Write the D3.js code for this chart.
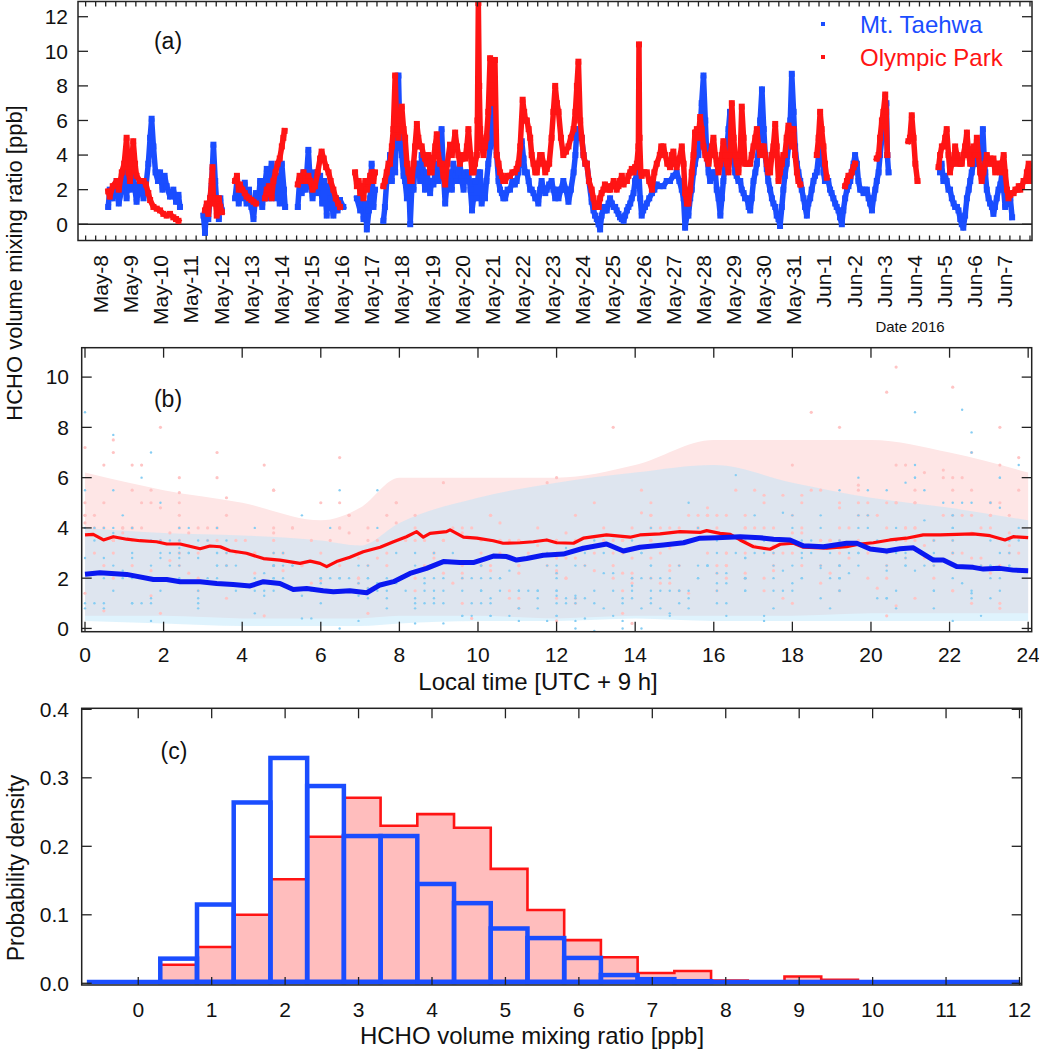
<!DOCTYPE html>
<html><head><meta charset="utf-8">
<script src="https://cdn.jsdelivr.net/npm/d3@7"></script>
<style>body{margin:0;background:#fff} text{font-family:Arial,"Liberation Sans",sans-serif;fill:#111}</style>
</head><body><svg id="c" width="1039" height="1050"></svg>
<script>
// ---------- DATA ----------
// Panel (a): time in days since May-8 00:00, HCHO [ppb]; null = gap
const taehwaSeries = [
[0.25,1.0],[0.3,2.0],[0.4,1.5],[0.53,2.5],[0.6,1.2],[0.7,2.0],[0.8,3.5],[0.86,1.5],[0.92,4.0],[0.97,2.0],[1.08,2.8],[1.19,1.3],[1.3,2.5],[1.42,1.5],[1.5,2.2],[1.58,3.5],[1.64,5.0],[1.69,6.1],[1.75,4.5],[1.82,3.0],[1.9,2.5],[1.97,3.0],[2.05,2.0],[2.12,2.8],[2.19,2.2],[2.3,1.6],[2.41,2.0],[2.5,1.3],[2.58,1.7],[2.63,1.0],null,
[3.41,0.5],[3.46,-0.5],[3.52,1.0],[3.57,0.3],[3.63,1.5],[3.68,2.2],[3.74,4.6],[3.8,2.5],[3.85,1.2],[3.92,0.3],[3.97,1.5],[4.02,0.8],null,
[4.46,1.5],[4.52,2.5],[4.58,1.2],[4.62,2.0],[4.7,1.5],[4.78,2.4],[4.84,1.2],[4.92,2.0],[5.0,1.0],[5.07,0.3],[5.15,1.8],[5.23,1.3],[5.29,2.5],[5.36,1.0],[5.43,2.0],[5.51,3.2],[5.58,1.5],[5.67,3.5],[5.73,2.0],[5.8,1.5],[5.87,2.8],[5.94,1.2],[6.01,3.5],[6.08,2.0],[6.12,1.0],null,
[6.54,1.0],[6.6,2.5],[6.67,1.8],[6.73,3.0],[6.8,2.0],[6.89,4.3],[6.95,2.5],[7.03,1.5],[7.11,3.0],[7.2,1.8],[7.28,2.8],[7.35,1.2],[7.42,2.5],[7.5,0.5],[7.56,2.2],[7.63,1.5],[7.72,0.5],[7.8,1.5],[7.86,0.8],[7.94,1.4],[8.05,1.0],null,
[8.5,1.5],[8.61,0.8],[8.67,1.5],[8.72,0.3],[8.78,1.2],[8.83,-0.3],[8.9,0.8],[8.94,1.5],[8.99,3.5],[9.05,1.0],[9.1,2.0],null,
[9.38,0.2],[9.43,1.0],[9.49,2.5],[9.55,3.0],[9.6,4.0],[9.66,2.5],[9.71,4.5],[9.77,3.0],[9.82,6.0],[9.88,8.6],[9.93,5.0],[9.99,4.0],[10.05,2.8],[10.1,2.5],[10.16,1.5],[10.21,3.0],[10.27,0.0],[10.32,2.0],[10.38,2.0],[10.43,3.5],[10.49,3.0],[10.54,3.5],[10.6,2.5],[10.65,4.0],[10.71,3.0],[10.76,2.0],[10.82,3.0],[10.87,2.5],[10.93,1.8],[10.98,2.5],[11.04,2.3],[11.1,3.0],[11.15,3.5],[11.2,2.5],[11.26,4.0],[11.31,5.5],[11.37,3.0],[11.43,1.2],[11.5,2.5],[11.59,3.0],[11.65,2.0],[11.7,3.5],[11.76,2.8],[11.82,2.5],[11.87,3.0],[11.92,3.5],[11.98,2.5],[12.04,2.0],[12.09,3.0],[12.15,2.5],[12.2,3.0],[12.27,2.0],[12.32,0.8],[12.37,1.5],[12.42,2.5],[12.48,1.5],[12.53,3.0],[12.59,3.0],[12.64,1.2],[12.7,2.0],[12.75,1.5],[12.8,2.5],[12.86,3.5],[12.92,4.5],[12.97,6.0],[13.03,7.7],[13.08,5.0],[13.14,4.0],[13.2,2.5],[13.25,2.0],[13.31,1.8],[13.36,1.5],[13.42,1.5],[13.5,2.0],[13.58,2.0],[13.66,2.5],[13.74,2.3],[13.8,2.5],[13.86,3.0],[13.92,4.0],[13.97,4.8],[14.03,3.8],[14.08,3.0],[14.14,3.0],[14.2,2.5],[14.25,2.0],[14.3,2.0],[14.36,1.8],[14.42,1.5],[14.47,1.5],[14.52,1.2],[14.58,2.0],[14.63,2.5],[14.7,2.0],[14.75,1.8],[14.8,2.0],[14.88,2.3],[14.96,2.5],[15.02,2.0],[15.08,1.5],[15.14,2.0],[15.19,1.5],[15.27,2.0],[15.35,2.5],[15.44,2.0],[15.52,1.3],[15.6,2.0],[15.69,3.0],[15.75,4.0],[15.8,5.5],[15.85,5.5],[15.91,5.0],[15.96,5.0],[16.02,4.0],[16.08,3.5],[16.13,3.5],[16.2,2.5],[16.29,1.3],[16.35,0.8],[16.4,0.5],[16.46,0.3],[16.52,0.0],[16.57,-0.3],[16.62,0.5],[16.68,1.0],[16.73,0.8],[16.79,0.8],[16.85,1.2],[16.9,1.5],[16.96,1.2],[17.02,1.0],[17.07,1.0],[17.12,0.8],[17.18,0.6],[17.23,0.4],[17.29,0.3],[17.35,0.2],[17.4,0.5],[17.46,0.8],[17.51,1.0],[17.57,1.2],[17.62,1.5],[17.68,1.8],[17.73,2.5],[17.79,3.0],[17.84,3.5],[17.9,1.5],[17.95,0.5],[18.0,0.8],[18.06,1.0],[18.12,1.2],[18.2,1.5],[18.29,1.8],[18.37,2.0],[18.45,2.3],[18.55,2.2],[18.67,2.2],[18.78,2.5],[18.89,2.5],[19.0,2.8],[19.11,3.0],[19.2,2.5],[19.28,2.0],[19.34,1.5],[19.39,-0.2],[19.45,0.5],[19.5,0.5],[19.56,1.5],[19.61,2.0],[19.67,3.0],[19.72,3.5],[19.78,4.0],[19.83,4.0],[19.89,5.5],[19.94,7.0],[20.0,8.6],[20.06,6.0],[20.11,4.0],[20.17,3.0],[20.22,2.5],[20.28,2.8],[20.33,3.0],[20.39,3.0],[20.44,2.0],[20.5,1.5],[20.56,0.5],[20.61,1.5],[20.66,2.5],[20.72,3.5],[20.78,4.5],[20.83,5.5],[20.88,6.5],[20.94,5.0],[21.0,4.0],[21.05,3.0],[21.1,2.8],[21.16,2.5],[21.22,2.5],[21.27,2.0],[21.33,1.8],[21.38,1.5],[21.44,1.5],[21.5,1.0],[21.55,0.8],[21.6,1.5],[21.66,2.5],[21.72,3.0],[21.77,3.5],[21.83,4.5],[21.88,6.0],[21.94,7.8],[22.0,5.5],[22.05,4.0],[22.1,3.2],[22.15,2.5],[22.21,2.0],[22.27,1.5],[22.32,1.2],[22.38,1.0],[22.43,0.5],[22.49,0.3],[22.54,-0.1],[22.6,1.0],[22.65,2.0],[22.7,2.8],[22.76,3.5],[22.82,4.5],[22.88,6.0],[22.93,8.7],[22.99,6.5],[23.04,4.5],[23.1,3.5],[23.15,3.0],[23.21,2.5],[23.26,2.0],[23.32,1.5],[23.37,1.0],[23.43,0.5],[23.48,1.2],[23.54,1.5],[23.59,2.0],[23.65,2.5],[23.7,2.8],[23.76,3.0],[23.82,4.0],[23.87,5.8],[23.92,4.5],[23.98,3.0],[24.03,2.5],[24.09,2.5],[24.14,2.5],[24.2,2.0],[24.25,1.8],[24.31,1.5],[24.37,1.2],[24.42,1.0],[24.48,0.8],[24.53,0.4],[24.59,0.0],[24.64,0.8],[24.7,1.5],[24.76,2.0],[24.81,2.2],[24.87,2.5],[24.92,3.0],[24.98,3.5],[25.03,4.0],[25.09,3.5],[25.14,2.5],[25.2,2.0],[25.25,2.0],[25.31,1.8],[25.36,2.0],[25.42,2.0],[25.48,1.5],[25.53,1.2],[25.59,0.8],[25.64,1.5],[25.7,2.0],[25.75,2.5],[25.81,3.0],[25.86,4.0],[25.92,5.0],[25.97,6.0],[26.03,5.5],[26.07,7.0],[26.1,4.0],[26.14,3.0],null,
[27.85,3.0],[27.9,3.5],[27.96,2.5],[28.02,2.8],[28.07,2.5],[28.13,2.0],[28.18,2.0],[28.24,1.5],[28.3,1.2],[28.35,1.0],[28.41,1.0],[28.46,0.8],[28.52,0.3],[28.57,0.0],[28.62,-0.2],[28.68,0.5],[28.74,1.5],[28.8,2.0],[28.85,2.5],[28.9,3.0],[28.96,3.5],[29.01,4.0],[29.07,3.5],[29.12,3.5],[29.18,4.0],[29.23,4.5],[29.27,5.5],[29.31,4.0],[29.35,3.0],[29.4,2.0],[29.46,1.5],[29.51,1.2],[29.57,1.0],[29.62,0.6],[29.67,1.0],[29.73,1.5],[29.79,2.0],[29.85,2.3],[29.9,2.8],[29.96,2.0],[30.01,1.0],[30.07,1.2],[30.12,1.5],[30.18,1.5],[30.24,0.4]
];
const olympicSeries = [
[0.25,1.9],[0.3,1.6],[0.4,2.2],[0.53,2.5],[0.6,2.0],[0.7,3.0],[0.78,3.5],[0.86,5.0],[0.92,3.0],[0.97,2.5],[1.03,3.5],[1.08,4.8],[1.14,3.5],[1.19,2.8],[1.3,2.5],[1.42,2.5],[1.5,2.3],[1.58,1.8],[1.64,1.4],[1.75,1.0],[1.86,0.9],[1.97,0.8],[2.08,0.6],[2.19,0.5],[2.3,0.6],[2.41,0.4],[2.5,0.3],[2.58,0.2],null,
[3.46,0.8],[3.52,1.2],[3.57,0.6],[3.63,1.5],[3.68,2.5],[3.71,3.3],[3.74,1.2],[3.8,1.5],[3.85,0.5],[3.92,1.5],[3.97,1.0],[4.02,0.7],null,
[4.46,2.5],[4.52,2.8],[4.58,2.0],[4.62,2.3],[4.7,2.0],[4.78,1.8],[4.84,1.6],[4.92,1.5],[5.0,1.4],[5.07,1.3],[5.15,1.2],null,
[5.45,1.5],[5.51,2.0],[5.58,2.2],[5.67,1.5],[5.73,2.5],[5.8,3.0],[5.87,3.5],[5.94,3.8],[6.01,4.5],[6.06,5.0],[6.1,5.4],null,
[6.54,2.3],[6.6,2.8],[6.67,2.5],[6.73,3.0],[6.8,2.5],[6.89,2.8],[6.95,2.5],[7.03,2.0],[7.11,2.2],[7.2,3.0],[7.28,3.8],[7.33,4.2],[7.4,3.8],[7.48,3.3],[7.56,3.0],[7.63,2.5],[7.72,2.0],[7.8,1.5],[7.88,1.2],[7.94,1.0],null,
[8.44,3.0],[8.5,2.2],[8.56,2.5],[8.61,1.8],[8.67,2.2],[8.72,1.5],[8.78,2.5],[8.83,2.0],[8.9,2.5],[8.94,2.8],[8.99,3.0],[9.05,2.5],[9.1,3.0],null,
[9.38,2.2],[9.43,2.5],[9.49,3.0],[9.55,3.5],[9.6,3.5],[9.66,4.5],[9.71,5.5],[9.77,8.6],[9.82,5.5],[9.88,5.0],[9.93,6.0],[9.99,6.8],[10.05,5.5],[10.1,5.0],[10.16,3.5],[10.21,3.0],[10.27,2.5],[10.32,2.5],[10.38,3.5],[10.43,4.5],[10.49,5.8],[10.54,5.0],[10.6,4.5],[10.65,4.5],[10.71,4.0],[10.76,3.8],[10.82,3.5],[10.87,4.0],[10.93,3.0],[10.98,3.0],[11.04,3.8],[11.1,4.5],[11.15,5.2],[11.2,4.0],[11.26,3.5],[11.31,3.5],[11.37,2.8],[11.43,2.3],[11.5,3.5],[11.59,4.6],[11.65,4.0],[11.7,4.5],[11.76,5.3],[11.82,4.5],[11.87,4.0],[11.92,3.5],[11.98,3.8],[12.04,4.0],[12.09,3.8],[12.15,4.5],[12.2,5.5],[12.27,4.0],[12.32,3.0],[12.37,3.0],[12.42,3.5],[12.48,4.0],[12.5,6.0],[12.53,12.8],[12.56,8.0],[12.59,5.5],[12.64,4.5],[12.7,4.0],[12.75,4.5],[12.8,5.0],[12.86,6.5],[12.92,9.6],[12.97,8.0],[13.03,7.0],[13.08,9.5],[13.14,4.0],[13.2,3.5],[13.25,3.0],[13.31,2.8],[13.36,2.5],[13.42,2.5],[13.5,2.8],[13.58,2.8],[13.66,3.0],[13.74,3.0],[13.8,3.2],[13.86,3.5],[13.92,4.5],[14.0,7.2],[14.05,6.5],[14.1,6.0],[14.14,6.0],[14.2,5.5],[14.25,5.0],[14.3,4.0],[14.36,3.5],[14.42,3.0],[14.47,3.0],[14.52,3.5],[14.58,4.0],[14.63,4.0],[14.7,3.5],[14.75,3.0],[14.8,3.2],[14.88,3.5],[14.96,5.0],[15.02,6.5],[15.08,8.0],[15.14,7.0],[15.19,6.5],[15.27,5.0],[15.35,4.0],[15.44,4.2],[15.52,4.5],[15.6,5.0],[15.69,5.5],[15.75,6.5],[15.8,8.0],[15.85,9.4],[15.91,6.0],[15.96,5.0],[16.02,4.0],[16.08,3.5],[16.13,3.5],[16.2,2.5],[16.29,2.0],[16.35,1.5],[16.4,1.0],[16.46,1.2],[16.52,1.0],[16.57,1.5],[16.62,1.8],[16.68,2.0],[16.73,2.3],[16.79,2.2],[16.85,2.0],[16.9,2.0],[16.96,2.2],[17.02,2.5],[17.07,2.3],[17.12,2.0],[17.18,2.2],[17.23,2.5],[17.29,2.8],[17.35,2.3],[17.4,2.5],[17.46,2.5],[17.51,2.8],[17.57,3.0],[17.62,3.2],[17.68,3.0],[17.73,3.3],[17.79,3.5],[17.84,4.5],[17.86,10.4],[17.88,5.0],[17.92,3.0],[17.95,2.8],[18.03,3.0],[18.12,3.0],[18.2,2.5],[18.29,2.0],[18.37,3.0],[18.45,3.5],[18.55,4.0],[18.6,4.5],[18.67,4.5],[18.73,4.0],[18.8,3.5],[18.89,3.3],[18.95,4.0],[19.0,4.2],[19.05,3.5],[19.11,3.3],[19.2,3.8],[19.28,4.5],[19.34,3.5],[19.39,1.8],[19.45,1.2],[19.5,1.2],[19.56,2.0],[19.61,3.0],[19.67,4.0],[19.72,5.3],[19.78,5.5],[19.83,5.0],[19.89,6.2],[19.94,5.5],[20.0,4.5],[20.06,4.0],[20.11,3.8],[20.17,3.5],[20.22,4.0],[20.28,4.5],[20.33,5.0],[20.39,4.0],[20.44,3.5],[20.5,3.0],[20.56,3.5],[20.61,4.0],[20.66,4.8],[20.72,4.0],[20.78,3.5],[20.83,3.0],[20.88,4.0],[20.94,7.0],[21.0,5.0],[21.05,4.0],[21.1,3.5],[21.16,3.0],[21.22,4.0],[21.27,6.8],[21.33,5.0],[21.38,3.5],[21.44,3.5],[21.5,3.5],[21.55,3.5],[21.6,4.0],[21.66,4.5],[21.72,5.0],[21.77,5.5],[21.83,4.5],[21.88,4.0],[21.94,4.5],[22.0,4.5],[22.05,4.0],[22.1,3.5],[22.15,3.0],[22.21,3.0],[22.27,4.0],[22.32,4.5],[22.38,5.8],[22.43,4.5],[22.49,2.5],[22.54,3.0],[22.6,3.5],[22.65,4.0],[22.7,4.0],[22.76,5.0],[22.82,5.7],[22.88,5.5],[22.93,4.5],[22.99,5.5],[23.04,4.0],[23.1,3.0],[23.15,2.5],[23.21,2.3],null,
[23.76,4.0],[23.82,5.0],[23.87,6.5],[23.92,5.5],[23.98,4.5],[24.03,3.5],[24.09,2.7],null,
[24.7,2.2],[24.76,2.5],[24.81,2.8],[24.87,2.8],[24.92,3.0],[24.98,3.3],[25.03,3.5],null,
[25.75,3.8],[25.81,4.0],[25.86,5.0],[25.92,6.0],[25.97,6.5],[26.03,7.5],[26.06,6.5],[26.1,4.0],null,
[26.8,4.8],[26.85,5.0],[26.91,6.3],[26.97,5.0],[27.03,3.5],[27.1,2.5],null,
[27.8,3.3],[27.85,4.0],[27.91,4.5],[27.96,4.5],[28.02,5.0],[28.07,5.5],[28.13,4.0],[28.18,3.0],[28.24,3.5],[28.3,3.5],[28.35,4.5],[28.41,4.0],[28.46,3.5],[28.52,3.5],[28.57,3.5],[28.62,4.0],[28.68,4.5],[28.74,5.3],[28.8,4.0],[28.85,3.5],[28.9,3.5],[28.96,4.5],[29.01,4.0],[29.07,5.0],[29.12,4.0],[29.18,3.0],[29.23,2.5],[29.29,3.0],[29.35,3.5],[29.4,4.0],[29.46,3.5],[29.51,3.8],[29.57,3.5],[29.62,3.8],[29.68,3.0],[29.73,3.5],[29.79,3.5],[29.85,3.0],[29.9,3.5],[29.96,4.0],[30.01,3.0],[30.07,2.0],[30.12,1.5],[30.18,1.7],[30.24,1.8],[30.29,1.8],[30.35,2.0],[30.4,2.0],[30.46,2.2],[30.51,2.0],[30.57,2.2],[30.62,2.5],[30.68,2.5],[30.73,3.0],[30.79,3.5],[30.85,2.5]
];
const dateLabels = ["May-8","May-9","May-10","May-11","May-12","May-13","May-14","May-15","May-16","May-17","May-18","May-19","May-20","May-21","May-22","May-23","May-24","May-25","May-26","May-27","May-28","May-29","May-30","May-31","Jun-1","Jun-2","Jun-3","Jun-4","Jun-5","Jun-6","Jun-7"];

// Panel (b): diurnal means (hour, ppb)
const olympicMeanHour = [0,0.21,0.47,0.72,1.06,1.4,1.82,2.08,2.42,2.93,3.18,3.44,3.69,4.11,4.54,4.96,5.47,5.73,5.98,6.15,6.4,6.74,7.08,7.51,7.85,8.18,8.44,8.61,8.78,9.2,9.29,9.63,9.97,10.39,10.64,11.07,11.41,11.75,12.0,12.43,12.68,13.27,13.87,14.12,14.63,15.14,15.65,15.82,16.16,16.42,16.67,17.01,17.43,17.69,18.03,18.28,18.87,19.38,19.72,20.06,20.48,20.9,21.33,21.76,22.18,22.6,23.03,23.41,23.62,24.0];
const olympicMeanValue = [3.72,3.74,3.52,3.65,3.55,3.49,3.45,3.36,3.36,3.17,3.28,3.25,3.09,2.99,2.78,2.72,2.59,2.68,2.59,2.46,2.66,2.83,3.05,3.23,3.45,3.65,3.85,3.63,3.78,3.85,3.92,3.63,3.59,3.49,3.39,3.41,3.45,3.52,3.41,3.39,3.59,3.72,3.63,3.72,3.76,3.85,3.82,3.89,3.78,3.74,3.52,3.25,3.15,3.35,3.39,3.23,3.19,3.25,3.36,3.41,3.52,3.59,3.72,3.72,3.74,3.76,3.69,3.52,3.65,3.61];
const taehwaMeanHour = [0,0.38,1.06,1.74,2.08,2.42,2.93,3.35,3.77,4.2,4.54,4.96,5.3,5.64,6.06,6.32,6.74,7.17,7.51,7.85,8.27,8.69,9.12,9.54,9.88,10.22,10.39,10.73,10.98,11.24,11.66,12.17,12.68,13.27,13.53,13.7,14.12,14.72,15.23,15.65,16.07,16.67,17.18,17.52,17.94,18.28,18.79,19.38,19.64,19.98,20.4,20.74,21.08,21.59,21.84,22.18,22.6,22.86,23.28,23.62,24.0];
const taehwaMeanValue = [2.16,2.22,2.15,1.95,1.95,1.86,1.86,1.79,1.75,1.69,1.86,1.79,1.55,1.59,1.5,1.46,1.5,1.42,1.73,1.86,2.19,2.39,2.66,2.62,2.62,2.79,2.88,2.86,2.72,2.78,2.91,2.96,3.19,3.36,3.19,3.08,3.23,3.32,3.41,3.59,3.61,3.65,3.61,3.55,3.52,3.29,3.25,3.39,3.39,3.16,3.08,3.17,3.21,2.72,2.72,2.46,2.43,2.36,2.39,2.32,2.3];
// Panel (b): spread of individual measurements (hour, low, high)
const spreadHour = [0,2,4,6,7,8,10,12,14,16,18,20,22,24];
const taehwaSpreadLow  = [0.3,0.2,0.1,0.1,0.1,0.2,0.3,0.3,0.4,0.3,0.3,0.3,0.3,0.3];
const taehwaSpreadHigh = [4.0,3.8,3.7,3.5,3.3,4.2,5.2,5.8,6.2,6.5,5.8,5.2,4.8,4.3];
const olympicSpreadLow  = [0.5,0.5,0.4,0.4,0.4,0.5,0.5,0.4,0.5,0.5,0.5,0.6,0.6,0.6];
const olympicSpreadHigh = [6.2,5.5,5.0,4.3,4.8,6.0,6.0,6.0,6.5,7.5,7.5,7.5,7.0,6.2];

// Panel (c): histograms, bins of 0.5 ppb starting at 0.3 ppb
const histBinStart = 0.3, histBinWidth = 0.5;
const taehwaHist  = [0.036,0.115,0.264,0.329,0.288,0.215,0.215,0.145,0.117,0.080,0.066,0.037,0.012,0.006,0.003];
const olympicHist = [0.027,0.053,0.100,0.152,0.214,0.271,0.230,0.247,0.227,0.167,0.107,0.063,0.038,0.015,0.018,0.004,0.002,0.010,0.005,0.002,0.001];

// ---------- DRAW ----------
const BLUE="#1a4dff", RED="#ff1414", FRAME="#222";
const svg=d3.select("#c");
function frame(g,l,r,t,b){g.append("rect").attr("x",l).attr("y",t).attr("width",r-l).attr("height",b-t).attr("fill","none").attr("stroke",FRAME).attr("stroke-width",1.5);}
function clip(id,l,r,t,b){svg.append("clipPath").attr("id",id).append("rect").attr("x",l).attr("y",t).attr("width",r-l).attr("height",b-t);}
function tick(x1,y1,x2,y2){svg.append("line").attr("x1",x1).attr("y1",y1).attr("x2",x2).attr("y2",y2).attr("stroke",FRAME).attr("stroke-width",1.3);}

// ===== Panel (a) =====
const A={l:78,r:1032,t:1.5,b:240.5};
const xA=d3.scaleLinear().domain([-0.753,30.9]).range([A.l,A.r]);
const yA=d3.scaleLinear().domain([-0.94,12.88]).range([A.b,A.t]);
clip("ca",A.l,A.r,A.t,A.b);
const gA=svg.append("g").attr("clip-path","url(#ca)");
gA.append("line").attr("x1",A.l).attr("x2",A.r).attr("y1",yA(0)).attr("y2",yA(0)).attr("stroke",FRAME).attr("stroke-width",1.5);
const lineA=d3.line().defined(d=>d!==null).x(d=>xA(d[0])).y(d=>yA(d[1]));
[[taehwaSeries,BLUE],[olympicSeries,RED]].forEach(([s,c])=>{
  gA.append("path").attr("d",lineA(s)).attr("fill","none").attr("stroke",c).attr("stroke-width",5.5).attr("stroke-linejoin","round").attr("stroke-linecap","square");
  gA.selectAll(null).data(s.filter(d=>d)).enter().append("rect").attr("x",d=>xA(d[0])-3).attr("y",d=>yA(d[1])-3).attr("width",6).attr("height",6).attr("fill",c);
});
frame(svg,A.l,A.r,A.t,A.b);
for(let d=-0.5; d<=30.9; d+=1/3){
  const major=Math.abs(d-Math.round(d))<0.01; const L=major?9:5;
  const x=xA(d); tick(x,A.b,x,A.b-L); tick(x,A.t,x,A.t+L);
}
yA.ticks(7).filter(v=>v>=0&&v<=12&&v%2===0).forEach(v=>{
  const y=yA(v); tick(A.l,y,A.l+10,y); tick(A.r,y,A.r-10,y);
  svg.append("text").attr("x",68).attr("y",y).attr("dy","0.35em").attr("text-anchor","end").attr("font-size",21).text(v);
});
dateLabels.forEach((lab,i)=>{
  svg.append("text").attr("transform",`translate(${xA(i)},255) rotate(-90)`).attr("text-anchor","end").attr("dy","0.35em").attr("font-size",21).text(lab);
});
svg.append("text").attr("x",910).attr("y",332).attr("text-anchor","middle").attr("font-size",15).text("Date 2016");
svg.append("text").attr("x",168).attr("y",49).attr("text-anchor","middle").attr("font-size",23).text("(a)");
// legend
svg.append("rect").attr("x",821).attr("y",22).attr("width",4).attr("height",4).attr("fill",BLUE);
svg.append("text").attr("x",860).attr("y",33).attr("font-size",24).style("fill",BLUE).text("Mt. Taehwa");
svg.append("rect").attr("x",821).attr("y",55).attr("width",4).attr("height",4).attr("fill",RED);
svg.append("text").attr("x",860).attr("y",66).attr("font-size",24).style("fill",RED).text("Olympic Park");

// ===== Panel (b) =====
const B={l:81.7,r:1031.7,t:347.7,b:631.7};
const xB=d3.scaleLinear().domain([-0.084,24.09]).range([B.l,B.r]);
const yB=d3.scaleLinear().domain([-0.13,11.17]).range([B.b,B.t]);
clip("cb",B.l,B.r,B.t,B.b);
const gB=svg.append("g").attr("clip-path","url(#cb)");
const areaB=(lo,hi)=>d3.area().curve(d3.curveMonotoneX).x((d,i)=>xB(spreadHour[i])).y0((d,i)=>yB(lo[i])).y1((d,i)=>yB(hi[i]))(spreadHour);
gB.append("path").attr("d",areaB(olympicSpreadLow,olympicSpreadHigh)).attr("fill","#fee6e6");
gB.append("path").attr("d",areaB(taehwaSpreadLow,taehwaSpreadHigh)).attr("fill","#b9e4fa").attr("opacity",0.45);
const fold=s=>s.filter(d=>d).map(d=>[(d[0]-Math.floor(d[0]))*24,d[1]]);
gB.selectAll(null).data(fold(olympicSeries)).enter().append("circle").attr("cx",d=>xB(d[0])).attr("cy",d=>yB(d[1])).attr("r",1.6).attr("fill","#ffc4c4");
gB.selectAll(null).data(fold(taehwaSeries)).enter().append("circle").attr("cx",d=>xB(d[0])).attr("cy",d=>yB(d[1])).attr("r",1.2).attr("fill","#86cdf3");
const lineB=(hs,vs)=>d3.line().x((d,i)=>xB(hs[i])).y((d,i)=>yB(vs[i]))(hs);
gB.append("path").attr("d",lineB(olympicMeanHour,olympicMeanValue)).attr("fill","none").attr("stroke","#ff0a0a").attr("stroke-width",3.2).attr("stroke-linejoin","round");
gB.append("path").attr("d",lineB(taehwaMeanHour,taehwaMeanValue)).attr("fill","none").attr("stroke","#0a18f0").attr("stroke-width",5).attr("stroke-linejoin","round");
frame(svg,B.l,B.r,B.t,B.b);
d3.range(0,25,2).forEach(h=>{
  const x=xB(h); tick(x,B.b,x,B.b-10); tick(x,B.t,x,B.t+10);
  svg.append("text").attr("x",x).attr("y",662).attr("text-anchor","middle").attr("font-size",21).text(h);
});
d3.range(0,11,2).forEach(v=>{
  const y=yB(v); tick(B.l,y,B.l+10,y); tick(B.r,y,B.r-10,y);
  svg.append("text").attr("x",69).attr("y",y).attr("dy","0.35em").attr("text-anchor","end").attr("font-size",21).text(v);
});
svg.append("text").attr("x",168).attr("y",407).attr("text-anchor","middle").attr("font-size",23).text("(b)");
svg.append("text").attr("x",538).attr("y",690).attr("text-anchor","middle").attr("font-size",24).text("Local time [UTC + 9 h]");
svg.append("text").attr("transform","translate(22,263) rotate(-90)").attr("text-anchor","middle").attr("font-size",22).text("HCHO volume mixing ratio [ppb]");

// ===== Panel (c) =====
const C={l:81.7,r:1021.7,t:708.3,b:985};
const xC=d3.scaleLinear().domain([-0.77,12.03]).range([C.l,C.r]);
const yC=d3.scaleLinear().domain([-0.0025,0.4015]).range([C.b,C.t]);
clip("cc",C.l,C.r,C.t,C.b);
const gC=svg.append("g").attr("clip-path","url(#cc)");
const redPts=olympicHist.map((v,i)=>[histBinStart+i*histBinWidth,v]);
redPts.push([histBinStart+olympicHist.length*histBinWidth,olympicHist[olympicHist.length-1]]);
gC.append("path").attr("d",d3.area().curve(d3.curveStepAfter).x(d=>xC(d[0])).y0(yC(0)).y1(d=>yC(d[1]))(redPts)).attr("fill","#ffbdbd");
const redLine=[[histBinStart,0]].concat(redPts);
gC.append("path").attr("d",d3.line().curve(d3.curveStepAfter).x(d=>xC(d[0])).y(d=>yC(d[1]))(redLine)).attr("fill","none").attr("stroke",RED).attr("stroke-width",2.6);
gC.append("line").attr("x1",xC(-0.7)).attr("x2",xC(12.0)).attr("y1",yC(0.002)).attr("y2",yC(0.002)).attr("stroke",BLUE).attr("stroke-width",4.5);
gC.selectAll(null).data(taehwaHist).enter().append("rect")
  .attr("x",(d,i)=>xC(histBinStart+i*histBinWidth)).attr("width",xC(histBinWidth)-xC(0))
  .attr("y",d=>yC(d)).attr("height",d=>yC(0.002)-yC(d))
  .attr("fill","none").attr("stroke",BLUE).attr("stroke-width",4.5);
frame(svg,C.l,C.r,C.t,C.b);
d3.range(0,13,1).forEach(v=>{
  const x=xC(v); tick(x,C.b,x,C.b-8); tick(x,C.t,x,C.t+10);
  svg.append("text").attr("x",x).attr("y",1017).attr("text-anchor","middle").attr("font-size",21).text(v);
});
d3.range(0,0.41,0.1).forEach(v=>{
  const y=yC(v); tick(C.l,y,C.l+10,y); tick(C.r,y,C.r-10,y);
  svg.append("text").attr("x",69).attr("y",y).attr("dy","0.35em").attr("text-anchor","end").attr("font-size",21).text(v.toFixed(1));
});
svg.append("text").attr("x",174).attr("y",759).attr("text-anchor","middle").attr("font-size",23).text("(c)");
svg.append("text").attr("x",532).attr("y",1044).attr("text-anchor","middle").attr("font-size",24).text("HCHO volume mixing ratio [ppb]");
svg.append("text").attr("transform","translate(24,868) rotate(-90)").attr("text-anchor","middle").attr("font-size",23).text("Probability density");
</script></body></html>
